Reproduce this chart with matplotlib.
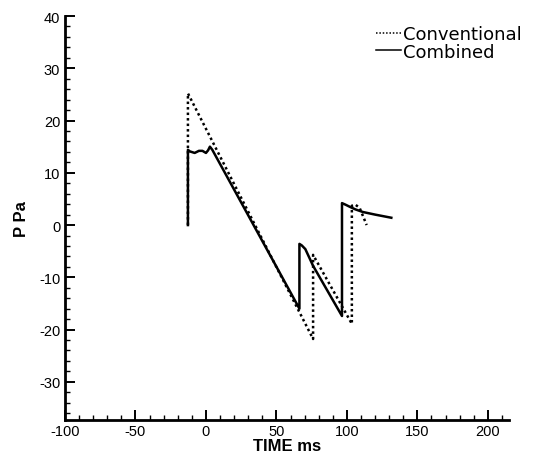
import matplotlib
matplotlib.use("Agg")
import matplotlib.pyplot as plt
from matplotlib.ticker import MultipleLocator

plt.rcParams["axes.unicode_minus"] = False

# values
conv_t = [-12.8, -12.8, -12.8, 76.0, 76.0, 76.0, 103.5, 103.5, 106.0, 109.0, 114.0]
conv_p = [0.0, 25.2, 25.2, -21.8, -21.8, -5.7, -18.9, 3.7, 3.9, 3.3, 0.0]

comb_t = [-12.8, -12.8, -11.5, -8.0, -5.0, -2.5, 0.0, 1.5, 2.8, 4.5, 66.3, 66.3, 68.0, 70.5,
          76.0, 96.5, 96.5, 99.0, 102.0, 106.0, 111.3, 120.0, 131.5]
comb_p = [0.0, 14.4, 14.1, 13.8, 14.2, 14.2, 13.8, 14.3, 15.0, 14.4, -16.0, -3.6, -3.9, -4.6,
          -7.8, -17.4, 4.2, 3.9, 3.5, 3.0, 2.5, 2.0, 1.4]

fig = plt.figure(figsize=(5.44, 4.6), dpi=100)
ax = fig.add_axes([0.1195, 0.0848, 0.8162, 0.8782])

ax.plot(conv_t, conv_p, color="black", lw=1.8, linestyle=(0, (1, 1.2)), label="Conventional")
ax.plot(comb_t, comb_p, color="black", lw=1.8, label="Combined")

ax.set_xlim(-100, 215)
ax.set_ylim(-37.3, 40)
ax.xaxis.set_major_locator(MultipleLocator(50))
ax.xaxis.set_minor_locator(MultipleLocator(10))
ax.yaxis.set_major_locator(MultipleLocator(10))
ax.yaxis.set_minor_locator(MultipleLocator(2))

for s in ["top", "right"]:
    ax.spines[s].set_visible(False)
for s in ["left", "bottom"]:
    ax.spines[s].set_linewidth(2)

ax.tick_params(which="both", direction="in", width=1.0, labelsize=10.5)
ax.tick_params(which="major", length=7.5, width=1.4)
ax.tick_params(which="minor", length=3.8)
ax.tick_params(axis="x", pad=3)
for lab in ax.get_xticklabels() + ax.get_yticklabels():
    lab.set_family("Liberation Sans")

ax.set_xlabel("TIME ms", fontsize=12, fontweight="bold", family="Liberation Sans", labelpad=0)
ax.set_ylabel("P Pa", fontsize=12, fontweight="bold", family="Liberation Sans", labelpad=7)

leg = ax.legend(loc="upper right", bbox_to_anchor=(1.045, 0.995), frameon=False, fontsize=13,
                handlelength=1.35, handletextpad=0.12, labelspacing=-0.03, borderaxespad=0)
for ln in leg.get_lines():
    ln.set_linewidth(1.1)

fig.savefig("out.png", dpi=100)
